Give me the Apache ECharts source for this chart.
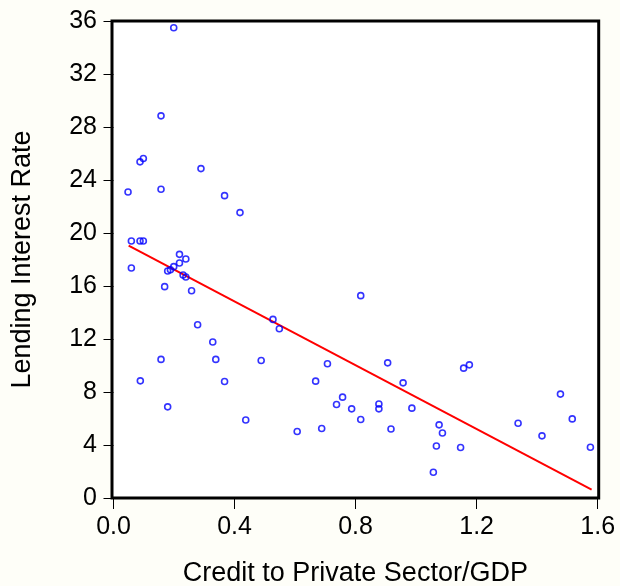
<!DOCTYPE html>
<html>
<head>
<meta charset="utf-8">
<script src="https://cdn.jsdelivr.net/npm/echarts@6/dist/echarts.min.js"></script>
<style>html,body{margin:0;padding:0;background:#fefef8;}#chart{width:620px;height:586px;}</style>
</head>
<body>
<div id="chart"></div>
<script>
var xTicks = [0, 0.4, 0.8, 1.2, 1.6];
var yTicks = [0, 4, 8, 12, 16, 20, 24, 28, 32, 36];
var credit = [0.199,0.157,0.0876,0.0986,0.289,0.048,0.157,0.367,0.418,0.059,0.0876,0.0986,0.218,0.239,
  0.059,0.218,0.199,0.188,0.179,0.230,0.239,0.169,0.258,0.278,0.527,0.548,0.328,0.157,0.338,0.488,0.707,0.0886,0.367,0.668,0.757,0.737,0.179,0.437,0.607,0.688,
  0.817,0.906,1.157,1.176,0.957,0.787,0.877,0.877,0.986,0.817,0.917,1.076,1.087,1.067,1.147,1.057,1.337,1.416,1.477,1.516,1.576];
var rate = [35.49,28.84,25.37,25.62,24.86,23.10,23.30,22.82,21.54,19.40,19.40,19.40,18.39,18.04,
  17.36,17.74,17.46,17.23,17.13,16.83,16.68,15.95,15.64,13.07,13.48,12.77,11.77,10.46,10.46,10.38,10.13,8.84,8.79,8.82,7.61,7.06,6.88,5.89,5.02,5.24,
  15.27,10.20,9.80,10.05,8.69,6.73,7.10,6.73,6.78,5.92,5.21,5.52,4.91,3.93,3.81,1.94,5.64,4.69,7.84,5.97,3.83];
var fitX = [0.05, 1.58];
var fitY = [19.04, 0.63];

var pts = credit.map(function(v, i){ return [v, rate[i]]; });
var fit = fitX.map(function(v, i){ return [v, fitY[i]]; });
var font = 'Liberation Sans, Arial, sans-serif';
var chart = echarts.init(document.getElementById('chart'), null, {renderer: 'canvas'});
chart.setOption({
  backgroundColor: '#fefef8',
  animation: false,
  grid: {left: 112, right: 21.3, top: 21, bottom: 88, show: true, containLabel: false,
    outerBoundsMode: 'none',
    backgroundColor: '#ffffff', borderColor: '#000000', borderWidth: 3},
  xAxis: {
    type: 'value', min: -0.005, max: 1.6034,
    name: 'Credit to Private Sector/GDP', nameLocation: 'middle', nameGap: 62,
    nameTextStyle: {fontFamily: font, fontSize: 27, color: '#000'},
    axisLine: {show: false},
    axisTick: {show: true, length: 11, lineStyle: {color: '#000', width: 1}, customValues: xTicks},
    axisLabel: {fontFamily: font, fontSize: 25, color: '#000', margin: 17, customValues: xTicks,
      formatter: function(v){ return v.toFixed(1); }},
    splitLine: {show: false}
  },
  yAxis: {
    type: 'value', min: 0, max: 36,
    name: 'Lending Interest Rate', nameLocation: 'middle', nameGap: 76,
    nameTextStyle: {fontFamily: font, fontSize: 27, color: '#000'},
    axisLine: {show: false},
    axisTick: {show: true, length: 10, lineStyle: {color: '#000', width: 1}, customValues: yTicks},
    axisLabel: {fontFamily: font, fontSize: 25, color: '#000', margin: 15, customValues: yTicks,
      padding: [0, 0, 3, 0]},
    splitLine: {show: false}
  },
  series: [
    {type: 'scatter', data: pts, symbol: 'circle', symbolSize: 6,
      itemStyle: {color: 'rgba(255,255,255,0)', borderColor: '#0000ff', borderWidth: 1.6}, z: 3},
    {type: 'line', data: fit, showSymbol: false, symbol: 'none',
      lineStyle: {color: '#ff0000', width: 2}, z: 2}
  ]
});
</script>
</body>
</html>
